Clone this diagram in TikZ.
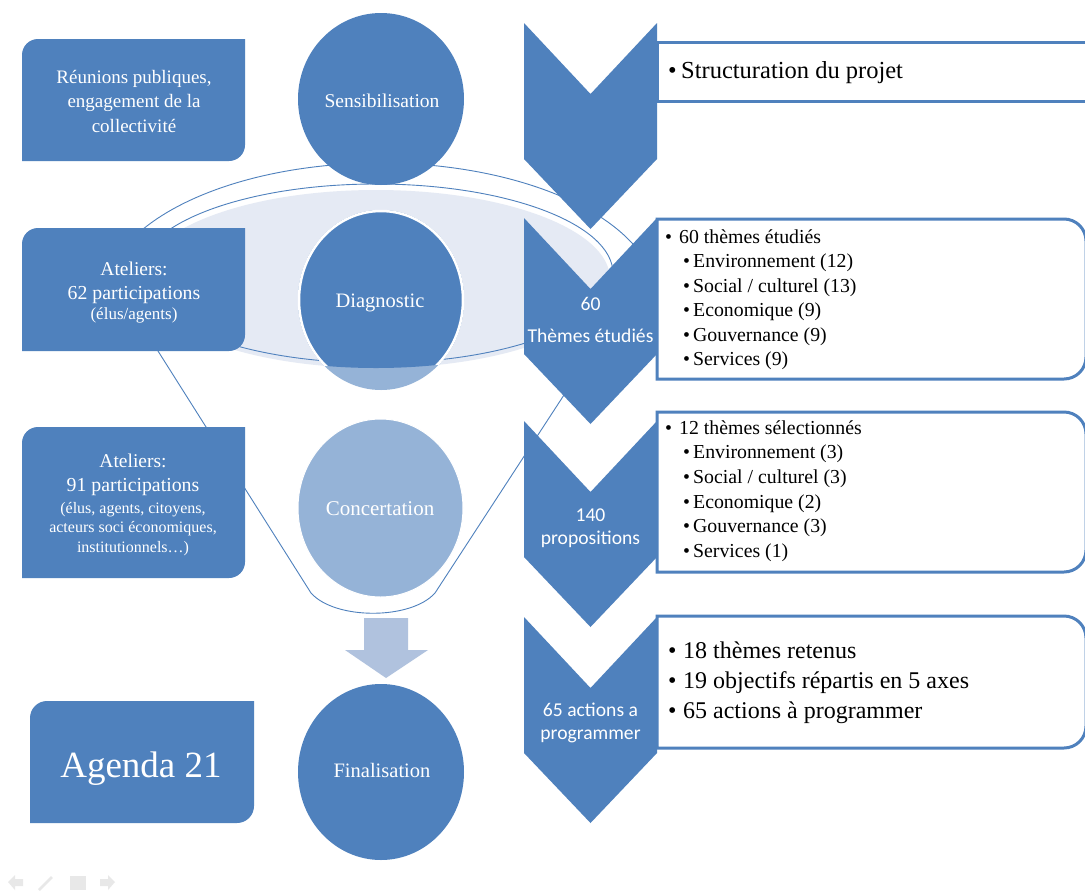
\documentclass[tikz,border=0pt]{standalone}
\usepackage{fontspec}
\setmainfont{Liberation Serif}
\newfontfamily\calib{Carlito}
\usetikzlibrary{shapes.geometric}
\definecolor{blu}{HTML}{4F81BD}
\definecolor{lblu}{HTML}{95B3D7}
\definecolor{arr}{HTML}{B0C2DE}
\definecolor{mouth}{HTML}{E5EAF4}
\definecolor{icn}{HTML}{E8E8E8}
\newcommand\fsz[1]{\fontsize{#1}{#1}\selectfont}
\begin{document}
\begin{tikzpicture}[x=1pt,y=-1pt,
  ring/.style={draw=blu, line width=0.9pt},
  rbox/.style={draw=blu, line width=3pt, fill=white},
  wt/.style={text=white, anchor=base, inner sep=0pt},
  bt/.style={text=black, anchor=base west, inner sep=0pt},
  ell/.style={ellipse, inner sep=0pt, draw=none},
  chevtxt/.style={text=white, anchor=base, inner sep=0pt, font=\calib\fsz{19.6}}]
\useasboundingbox (0,0) rectangle (1085,892);
\fill[white] (0,0) rectangle (1085,892);

% ---------- funnel ----------
\fill[mouth] (376,279) ellipse [x radius=234, y radius=89];
\draw[ring] (376,273.5) ellipse [x radius=237, y radius=89.5];
\coordinate (fl) at (108.6,272.9);
\coordinate (fbl) at (311,593);
\coordinate (fbr) at (435,593);
\coordinate (fr) at (648.2,265.7);
\draw[ring] (fl) -- (fbl) .. controls (335,620) and (411,620) .. (fbr) -- (fr)
  arc[start angle=-14.5, end angle=-168.6, x radius=277, y radius=137];

% ---------- circles ----------
\node[ell, fill=lblu, minimum width=166, minimum height=180] (diag) at (381,300) {};
\begin{scope}
  \clip (376,279) ellipse [x radius=234, y radius=89];
  \fill[blu] (381,300) ellipse [x radius=83, y radius=90];
  \draw[white, line width=2.5pt] (381,300) ellipse [x radius=82, y radius=89];
\end{scope}
\node[ell, fill=blu, minimum width=166, minimum height=172] (sens) at (381,99) {};
\node[ell, fill=lblu, draw=white, line width=1pt, minimum width=165, minimum height=178] (conc) at (380.5,508) {};
\node[ell, fill=blu, minimum width=166, minimum height=176] (fina) at (381,772) {};

\node[wt, font=\fsz{19.5}] (tsens) at (382,107) {Sensibilisation};
\node[wt, font=\fsz{20.5}] (tdiag) at (380,307) {Diagnostic};
\node[wt, font=\fsz{21}] (tconc) at (380,515) {Concertation};
\node[wt, font=\fsz{20.5}] (tfina) at (382,777) {Finalisation};

% ---------- arrow ----------
\fill[arr] (364,618) -- (408,618) -- (408,650) -- (428,650) -- (386,678) -- (345,650) -- (364,650) -- cycle;

% ---------- left boxes ----------
\fill[blu] (22,161) -- (22,55) arc[start angle=180, end angle=270, radius=16] -- (245,39) -- (245,145) arc[start angle=0, end angle=90, radius=16] -- cycle;
\fill[blu] (22,351) -- (22,244) arc[start angle=180, end angle=270, radius=16] -- (245,228) -- (245,335) arc[start angle=0, end angle=90, radius=16] -- cycle;
\fill[blu] (22,578) -- (22,443) arc[start angle=180, end angle=270, radius=16] -- (245,427) -- (245,562) arc[start angle=0, end angle=90, radius=16] -- cycle;
\fill[blu] (30,823) -- (30,718) arc[start angle=180, end angle=270, radius=17] -- (254,701) -- (254,806) arc[start angle=0, end angle=90, radius=17] -- cycle;

\node[wt, font=\fsz{19}] (l1a) at (134,83) {Réunions publiques,};
\node[wt, font=\fsz{19}] (l1b) at (134,107.5) {engagement de la};
\node[wt, font=\fsz{19}] (l1c) at (134,132) {collectivité};

\node[wt, font=\fsz{19.5}] (l2a) at (134,275.5) {Ateliers:};
\node[wt, font=\fsz{19.8}] (l2b) at (134,299) {62 participations};
\node[wt, font=\fsz{17}] (l2c) at (134,319.5) {(élus/agents)};

\node[wt, font=\fsz{19.5}] (l3a) at (133,467) {Ateliers:};
\node[wt, font=\fsz{19.8}] (l3b) at (133,491) {91 participations};
\node[wt, font=\fsz{16}] (l3c) at (133,513) {(élus, agents, citoyens,};
\node[wt, font=\fsz{16}] (l3d) at (133,532.5) {acteurs soci économiques,};
\node[wt, font=\fsz{16}] (l3e) at (133,552) {institutionnels…)};

\node[wt, font=\fsz{37}] (agenda) at (141,777) {Agenda 21};

% ---------- right boxes ----------
\draw[rbox] (657,42) rectangle (1100,101);
\draw[rbox] (657,219) -- (1064,219) arc[start angle=-90, end angle=0, radius=22] -- (1086,357) arc[start angle=0, end angle=90, radius=22] -- (657,379) -- cycle;
\draw[rbox] (657,412) -- (1064,412) arc[start angle=-90, end angle=0, radius=22] -- (1086,550) arc[start angle=0, end angle=90, radius=22] -- (657,572) -- cycle;
\draw[rbox] (657,616) -- (1064,616) arc[start angle=-90, end angle=0, radius=22] -- (1086,726) arc[start angle=0, end angle=90, radius=22] -- (657,748) -- cycle;

\node[bt, font=\fsz{24.5}] (r1) at (668,78.5) {\makebox[13pt][l]{•}Structuration du projet};

\node[bt, font=\fsz{19.8}] (r2a) at (665,243) {\makebox[14pt][l]{•}60 thèmes étudiés};
\node[bt, font=\fsz{19.8}] (r2b) at (683,267.5) {\makebox[10pt][l]{•}Environnement (12)};
\node[bt, font=\fsz{19.8}] (r2c) at (683,292) {\makebox[10pt][l]{•}Social / culturel (13)};
\node[bt, font=\fsz{19.8}] (r2d) at (683,316.5) {\makebox[10pt][l]{•}Economique (9)};
\node[bt, font=\fsz{19.8}] (r2e) at (683,341) {\makebox[10pt][l]{•}Gouvernance (9)};
\node[bt, font=\fsz{19.8}] (r2f) at (683,365.5) {\makebox[10pt][l]{•}Services (9)};

\node[bt, font=\fsz{19.8}] (r3a) at (665,434) {\makebox[14pt][l]{•}12 thèmes sélectionnés};
\node[bt, font=\fsz{19.8}] (r3b) at (683,458.5) {\makebox[10pt][l]{•}Environnement (3)};
\node[bt, font=\fsz{19.8}] (r3c) at (683,483) {\makebox[10pt][l]{•}Social / culturel (3)};
\node[bt, font=\fsz{19.8}] (r3d) at (683,508) {\makebox[10pt][l]{•}Economique (2)};
\node[bt, font=\fsz{19.8}] (r3e) at (683,532.5) {\makebox[10pt][l]{•}Gouvernance (3)};
\node[bt, font=\fsz{19.8}] (r3f) at (683,557) {\makebox[10pt][l]{•}Services (1)};

\node[bt, font=\fsz{24}] (r4a) at (668,658) {\makebox[15pt][l]{•}18 thèmes retenus};
\node[bt, font=\fsz{24}] (r4b) at (668,688) {\makebox[15pt][l]{•}19 objectifs répartis en 5 axes};
\node[bt, font=\fsz{24}] (r4c) at (668,718) {\makebox[15pt][l]{•}65 actions à programmer};

% ---------- chevrons ----------
\foreach \t in {23,218,421,617}{
  \fill[blu] (524,\t) -- (590.5,\t+71) -- (657,\t) -- (657,\t+136) -- (590.5,\t+206) -- (524,\t+136) -- cycle;
}
\node[chevtxt] (c2a) at (590.5,310) {60};
\node[chevtxt] (c2b) at (590.5,342) {Thèmes étudiés};
\node[chevtxt] (c3a) at (590.5,521) {140};
\node[chevtxt] (c3b) at (590.5,544) {propositions};
\node[chevtxt] (c4a) at (590.5,716) {65 actions a};
\node[chevtxt] (c4b) at (590.5,739) {programmer};

% ---------- faint navigation icons ----------
\fill[icn] (8,882) -- (15,875) -- (15,879) -- (23,879) -- (23,886) -- (15,886) -- (15,890) -- cycle;
\draw[icn, line width=2.5pt] (39,890) -- (52,877);
\fill[icn] (70,876) rectangle (86,890);
\fill[icn] (115,882) -- (108,875) -- (108,879) -- (100,879) -- (100,886) -- (108,886) -- (108,890) -- cycle;
\end{tikzpicture}
\end{document}
